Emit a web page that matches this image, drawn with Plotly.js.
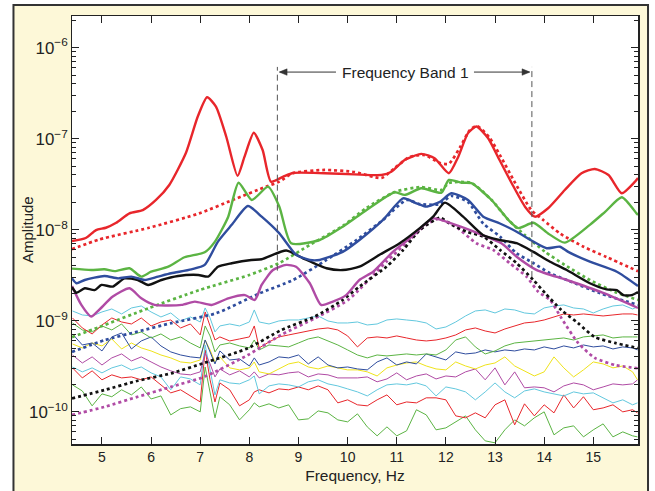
<!DOCTYPE html>
<html>
<head>
<meta charset="utf-8">
<script src="https://cdn.plot.ly/plotly-3.0.1.min.js"></script>
<style>html,body{margin:0;padding:0;background:#fff;}#chart{width:655px;height:491px;}</style>
</head>
<body>
<div id="chart"></div>
<script>
// ---- thick solid / dotted curves (frequency Hz, amplitude) ----
const redSolidF = [4.39,4.67,4.88,5.08,5.29,5.56,5.83,6.10,6.37,6.71,6.95,7.14,7.32,7.53,7.76,7.90,8.09,8.27,8.44,8.68,8.89,9.53,10.14,10.69,10.89,11.16,11.50,11.77,12.06,12.25,12.45,12.62,12.86,13.06,13.34,13.61,13.81,14.08,14.42,14.76,15.03,15.31,15.58,15.85,15.91];
const redSolidA = [7.5e-9,8.1e-9,9.9e-9,1.05e-8,1.19e-8,1.51e-8,1.64e-8,2.12e-8,3.1e-8,7.0e-8,1.75e-7,2.85e-7,2.25e-7,1.05e-7,3.9e-8,6.3e-8,1.16e-7,7.5e-8,3.37e-8,3.8e-8,4.2e-8,4.17e-8,4.05e-8,3.99e-8,4.34e-8,5.83e-8,6.8e-8,6.1e-8,4.17e-8,6.3e-8,1.15e-7,1.36e-7,1.01e-7,6.3e-8,3.24e-8,1.79e-8,1.39e-8,1.72e-8,2.73e-8,4.17e-8,4.65e-8,3.99e-8,2.51e-8,3.37e-8,3.7e-8];
const redDotF = [4.39,4.94,5.96,6.98,7.66,8.34,8.61,8.88,9.53,10.14,10.69,10.96,11.26,11.57,11.88,12.06,12.28,12.49,12.63,12.88,13.10,13.41,13.74,13.98,14.32,14.80,15.27,15.91];
const redDotA = [6.1e-9,7.8e-9,1.05e-8,1.51e-8,2.12e-8,2.97e-8,3.37e-8,4.17e-8,4.53e-8,4.3e-8,3.7e-8,4.77e-8,6.3e-8,6.6e-8,5.4e-8,5.3e-8,7.9e-8,1.25e-7,1.38e-7,1.04e-7,6.6e-8,3.26e-8,1.64e-8,1.28e-8,9.1e-9,6.5e-9,5.0e-9,3.5e-9];

const greenSolidF = [4.39,4.78,5.05,5.26,5.56,5.80,6.00,6.35,6.68,7.09,7.30,7.57,7.78,8.05,8.38,8.61,8.85,9.43,9.90,10.38,10.96,11.16,11.50,11.91,12.06,12.32,12.52,12.93,13.27,13.47,13.78,14.08,14.42,14.93,15.24,15.58,15.88,15.91];
const greenSolidA = [3.73e-9,3.6e-9,3.67e-9,3.5e-9,3.77e-9,3.05e-9,3.45e-9,3.92e-9,4.98e-9,5.65e-9,7.4e-9,1.39e-8,3.28e-8,2.12e-8,2.97e-8,1.79e-8,7.1e-9,7.7e-9,1.08e-8,1.64e-8,2.58e-8,2.41e-8,2.85e-8,2.55e-8,3.52e-8,3.28e-8,3.24e-8,2.12e-8,1.28e-8,1.04e-8,1.19e-8,9.1e-9,7.2e-9,1.13e-8,1.57e-8,2.27e-8,1.51e-8,1.45e-8];
const greenDotF = [4.39,4.94,5.96,6.98,8.00,8.61,9.23,9.90,10.38,10.96,11.50,11.91,12.06,12.52,12.93,13.27,13.61,14.02,14.42,14.93,15.44,15.91];
const greenDotA = [6.6e-10,8.5e-10,1.38e-9,2.17e-9,3.18e-9,4.3e-9,6.8e-9,1.1e-8,1.73e-8,2.6e-8,2.94e-8,2.73e-8,3.26e-8,3.26e-8,2.12e-8,1.28e-8,8.7e-9,5.7e-9,4.1e-9,2.8e-9,2.07e-9,1.69e-9];

const blueSolidF = [4.39,4.48,4.65,5.05,5.33,5.60,5.87,6.14,6.41,6.82,7.09,7.36,7.64,7.97,8.25,8.61,8.95,9.23,9.43,9.90,10.24,10.72,11.13,11.40,11.60,11.88,12.11,12.45,12.76,13.10,13.44,13.78,14.05,14.32,14.49,14.93,15.48,15.91];
const blueSolidA = [2.92e-9,2.58e-9,2.8e-9,3.1e-9,2.92e-9,3.05e-9,2.8e-9,3.05e-9,3.32e-9,3.67e-9,4.1e-9,7.4e-9,1.13e-8,1.82e-8,1.39e-8,9.1e-9,5.3e-9,4.65e-9,4.65e-9,5.7e-9,7.7e-9,1.28e-8,2.21e-8,1.95e-8,1.79e-8,2.03e-8,2.51e-8,2.12e-8,1.39e-8,1.17e-8,9.5e-9,7.4e-9,6.25e-9,6.5e-9,5.7e-9,4.45e-9,3.45e-9,2.4e-9];
const blueDotF = [4.39,5.05,5.73,6.41,7.33,8.21,8.89,9.57,10.18,10.72,11.20,11.47,11.88,12.11,12.45,12.76,13.10,13.44,13.78,14.12,14.46,15.14,15.91];
const blueDotA = [4.53e-10,6.1e-10,7.6e-10,9.4e-10,1.21e-9,2.0e-9,2.8e-9,4.65e-9,7.7e-9,1.28e-8,2.12e-8,1.91e-8,1.91e-8,2.35e-8,2.01e-8,1.17e-8,8.4e-9,5.5e-9,4.3e-9,3.32e-9,2.8e-9,2.0e-9,1.49e-9];

const blackSolidF = [4.39,4.48,4.65,4.85,4.99,5.22,5.46,5.73,5.94,6.21,6.55,6.96,7.16,7.36,7.64,8.04,8.25,8.75,9.09,9.57,9.90,10.24,10.65,11.06,11.47,11.74,11.98,12.35,12.76,13.10,13.44,13.78,14.12,14.46,14.93,15.27,15.48,15.61,15.78,15.91];
const blackSolidA = [2.33e-9,2.03e-9,2.27e-9,2.17e-9,2.47e-9,2.37e-9,2.92e-9,2.8e-9,2.47e-9,2.8e-9,3.1e-9,3.18e-9,3.05e-9,3.92e-9,4.28e-9,4.65e-9,4.73e-9,5.9e-9,4.85e-9,3.77e-9,3.6e-9,3.92e-9,5.3e-9,7.1e-9,1.04e-8,1.39e-8,1.98e-8,1.39e-8,8.7e-9,7.7e-9,7.1e-9,5.7e-9,4.45e-9,3.6e-9,2.58e-9,2.21e-9,2.17e-9,1.91e-9,1.91e-9,2.07e-9];
const blackDotF = [4.39,5.05,5.73,6.41,7.09,7.97,8.65,9.33,9.90,10.24,10.79,11.13,11.47,11.88,12.12,12.45,12.76,13.10,13.44,13.78,14.02,14.35,14.69,15.03,15.44,15.91];
const blackDotA = [1.4e-10,1.73e-10,2.19e-10,2.64e-10,3.45e-10,4.98e-10,7.9e-10,1.11e-9,1.69e-9,2.37e-9,3.92e-9,5.98e-9,9.9e-9,1.35e-8,1.13e-8,9.4e-9,8.4e-9,6.0e-9,4.28e-9,2.8e-9,2.01e-9,1.31e-9,9.4e-10,6.6e-10,5.7e-10,5.0e-10];

const magSolidF = [4.39,4.58,4.78,4.94,5.22,5.56,5.80,6.07,6.62,6.89,7.23,7.57,7.91,8.11,8.25,8.48,8.75,8.95,9.23,9.46,9.70,9.97,10.24,10.52,10.92,11.26,11.74,12.11,12.66,13.13,13.44,13.85,14.46,15.14,15.91];
const magSolidA = [2.4e-9,1.49e-9,1.11e-9,1.31e-9,1.84e-9,2.27e-9,1.76e-9,1.49e-9,1.49e-9,1.62e-9,1.49e-9,1.76e-9,1.91e-9,1.69e-9,2.47e-9,3.6e-9,4.1e-9,3.92e-9,2.58e-9,1.49e-9,1.62e-9,1.91e-9,2.8e-9,3.45e-9,5.7e-9,8.0e-9,1.33e-8,1.17e-8,9.1e-9,7.1e-9,5.05e-9,3.6e-9,2.8e-9,2.08e-9,1.38e-9];
const magDotF = [4.39,5.05,5.73,6.41,7.09,7.97,8.65,9.33,10.01,10.79,11.26,11.60,11.83,12.18,12.62,12.96,13.30,13.64,13.88,14.12,14.35,14.69,15.03,15.44,15.91];
const magDotA = [9.2e-11,1.13e-10,1.46e-10,1.88e-10,2.43e-10,4.2e-10,7.0e-10,1.06e-9,1.69e-9,4.45e-9,7.7e-9,1.13e-8,1.31e-8,1.1e-8,7.1e-9,6.0e-9,4.28e-9,3.05e-9,2.08e-9,1.69e-9,1.07e-9,5.7e-10,3.9e-10,3.26e-10,3.0e-10];

// ---- thin noise-floor records (shared frequency grid) ----
const noiseFreq = [4.4,4.6,4.8,5.0,5.2,5.4,5.6,5.8,6.0,6.2,6.4,6.6,6.8,7.0,7.1,7.2,7.3,7.4,7.6,7.8,8.0,8.1,8.2,8.4,8.6,8.8,9.0,9.2,9.4,9.6,9.8,10.0,10.2,10.4,10.6,10.8,11.0,11.2,11.4,11.6,11.8,12.0,12.2,12.4,12.6,12.8,13.0,13.2,13.4,13.6,13.8,14.0,14.2,14.4,14.6,14.8,15.0,15.2,15.4,15.6,15.8,15.9];
const cyan1 = [1.279e-9,1.156e-9,1.127e-9,1.247e-9,1.345e-9,1.186e-9,1.380e-9,1.451e-9,1.247e-9,1.099e-9,1.216e-9,0.993e-9,1.099e-9,0.968e-9,1.380e-9,1.071e-9,0.752e-9,0.875e-9,0.920e-9,0.875e-9,0.968e-9,1.312e-9,0.968e-9,0.920e-9,0.993e-9,1.018e-9,1.018e-9,1.071e-9,1.127e-9,0.993e-9,0.944e-9,0.944e-9,0.968e-9,0.897e-9,0.920e-9,1.018e-9,1.045e-9,1.018e-9,0.993e-9,0.944e-9,0.811e-9,0.853e-9,0.968e-9,1.127e-9,1.279e-9,1.312e-9,1.216e-9,1.345e-9,1.312e-9,1.216e-9,1.186e-9,1.380e-9,1.451e-9,1.489e-9,1.380e-9,1.345e-9,1.216e-9,1.345e-9,1.451e-9,1.489e-9,1.345e-9,1.415e-9];
const red1 = [1.071e-9,0.832e-9,0.715e-9,0.897e-9,1.071e-9,0.968e-9,0.920e-9,1.071e-9,0.875e-9,0.968e-9,1.018e-9,0.832e-9,0.920e-9,0.697e-9,1.247e-9,0.897e-9,0.614e-9,0.663e-9,0.599e-9,0.630e-9,0.663e-9,0.875e-9,0.502e-9,0.584e-9,0.663e-9,0.697e-9,0.733e-9,0.771e-9,0.811e-9,0.832e-9,0.791e-9,0.680e-9,0.515e-9,0.646e-9,0.663e-9,0.646e-9,0.680e-9,0.646e-9,0.614e-9,0.599e-9,0.614e-9,0.646e-9,0.697e-9,0.791e-9,0.832e-9,0.771e-9,0.733e-9,0.811e-9,0.875e-9,0.944e-9,0.968e-9,1.018e-9,1.099e-9,1.186e-9,1.156e-9,1.186e-9,1.156e-9,1.127e-9,1.156e-9,1.186e-9,1.186e-9,1.156e-9];
const green1 = [0.944e-9,0.791e-9,0.752e-9,0.875e-9,0.791e-9,0.920e-9,0.697e-9,0.752e-9,0.646e-9,0.715e-9,0.614e-9,0.663e-9,0.569e-9,0.502e-9,0.875e-9,0.680e-9,0.454e-9,0.541e-9,0.569e-9,0.528e-9,0.502e-9,0.614e-9,0.477e-9,0.541e-9,0.528e-9,0.515e-9,0.569e-9,0.630e-9,0.663e-9,0.599e-9,0.541e-9,0.477e-9,0.420e-9,0.390e-9,0.420e-9,0.410e-9,0.420e-9,0.431e-9,0.420e-9,0.431e-9,0.420e-9,0.477e-9,0.614e-9,0.663e-9,0.515e-9,0.431e-9,0.465e-9,0.528e-9,0.569e-9,0.584e-9,0.599e-9,0.614e-9,0.630e-9,0.646e-9,0.614e-9,0.663e-9,0.680e-9,0.697e-9,0.646e-9,0.663e-9,0.663e-9,0.663e-9];
const blue1 = [0.715e-9,0.541e-9,0.569e-9,0.465e-9,0.663e-9,0.733e-9,0.489e-9,0.599e-9,0.663e-9,0.528e-9,0.454e-9,0.420e-9,0.400e-9,0.390e-9,0.614e-9,0.454e-9,0.335e-9,0.465e-9,0.370e-9,0.380e-9,0.318e-9,0.390e-9,0.326e-9,0.352e-9,0.400e-9,0.390e-9,0.420e-9,0.335e-9,0.400e-9,0.326e-9,0.303e-9,0.310e-9,0.295e-9,0.288e-9,0.352e-9,0.390e-9,0.326e-9,0.352e-9,0.335e-9,0.431e-9,0.400e-9,0.370e-9,0.454e-9,0.431e-9,0.442e-9,0.477e-9,0.454e-9,0.477e-9,0.465e-9,0.489e-9,0.477e-9,0.515e-9,0.489e-9,0.528e-9,0.502e-9,0.541e-9,0.515e-9,0.528e-9,0.489e-9,0.515e-9,0.502e-9,0.477e-9];
const yellow1 = [0.555e-9,0.502e-9,0.569e-9,0.528e-9,0.630e-9,0.489e-9,0.569e-9,0.502e-9,0.465e-9,0.420e-9,0.390e-9,0.352e-9,0.343e-9,0.370e-9,0.614e-9,0.477e-9,0.352e-9,0.400e-9,0.303e-9,0.288e-9,0.303e-9,0.352e-9,0.274e-9,0.260e-9,0.295e-9,0.335e-9,0.352e-9,0.310e-9,0.295e-9,0.318e-9,0.303e-9,0.288e-9,0.288e-9,0.274e-9,0.247e-9,0.303e-9,0.326e-9,0.343e-9,0.352e-9,0.318e-9,0.295e-9,0.288e-9,0.352e-9,0.318e-9,0.295e-9,0.326e-9,0.343e-9,0.400e-9,0.318e-9,0.281e-9,0.247e-9,0.274e-9,0.400e-9,0.303e-9,0.241e-9,0.288e-9,0.352e-9,0.335e-9,0.303e-9,0.318e-9,0.274e-9,0.224e-9];
const magenta1 = [0.420e-9,0.343e-9,0.400e-9,0.326e-9,0.390e-9,0.431e-9,0.361e-9,0.400e-9,0.352e-9,0.310e-9,0.281e-9,0.260e-9,0.254e-9,0.274e-9,0.442e-9,0.335e-9,0.241e-9,0.295e-9,0.254e-9,0.281e-9,0.241e-9,0.274e-9,0.235e-9,0.260e-9,0.254e-9,0.267e-9,0.274e-9,0.241e-9,0.260e-9,0.254e-9,0.235e-9,0.235e-9,0.235e-9,0.241e-9,0.213e-9,0.229e-9,0.267e-9,0.224e-9,0.247e-9,0.260e-9,0.229e-9,0.247e-9,0.241e-9,0.274e-9,0.295e-9,0.224e-9,0.303e-9,0.197e-9,0.274e-9,0.183e-9,0.187e-9,0.183e-9,0.165e-9,0.192e-9,0.207e-9,0.197e-9,0.174e-9,0.187e-9,0.202e-9,0.197e-9,0.202e-9,0.224e-9];
const cyan2 = [0.310e-9,0.274e-9,0.303e-9,0.267e-9,0.303e-9,0.326e-9,0.288e-9,0.310e-9,0.267e-9,0.241e-9,0.174e-9,0.241e-9,0.229e-9,0.197e-9,0.541e-9,0.274e-9,0.153e-9,0.224e-9,0.207e-9,0.202e-9,0.224e-9,0.247e-9,0.157e-9,0.192e-9,0.202e-9,0.197e-9,0.187e-9,0.213e-9,0.224e-9,0.202e-9,0.192e-9,0.178e-9,0.165e-9,0.149e-9,0.174e-9,0.197e-9,0.202e-9,0.197e-9,0.207e-9,0.192e-9,0.149e-9,0.187e-9,0.178e-9,0.165e-9,0.135e-9,0.165e-9,0.207e-9,0.165e-9,0.142e-9,0.169e-9,0.178e-9,0.165e-9,0.157e-9,0.149e-9,0.165e-9,0.157e-9,0.161e-9,0.142e-9,0.125e-9,0.135e-9,0.119e-9,0.125e-9];
const red2 = [0.303e-9,0.235e-9,0.281e-9,0.224e-9,0.254e-9,0.235e-9,0.241e-9,0.224e-9,0.241e-9,0.197e-9,0.161e-9,0.174e-9,0.149e-9,0.128e-9,0.477e-9,0.224e-9,0.128e-9,0.207e-9,0.174e-9,0.116e-9,0.135e-9,0.165e-9,0.174e-9,0.161e-9,0.178e-9,0.174e-9,0.187e-9,0.174e-9,0.192e-9,0.174e-9,0.125e-9,0.135e-9,0.119e-9,0.116e-9,0.135e-9,0.153e-9,0.119e-9,0.128e-9,0.125e-9,0.142e-9,0.142e-9,0.135e-9,0.0900e-9,0.0856e-9,0.0971e-9,0.0856e-9,0.119e-9,0.135e-9,0.0717e-9,0.122e-9,0.0900e-9,0.119e-9,0.0971e-9,0.153e-9,0.110e-9,0.146e-9,0.105e-9,0.110e-9,0.119e-9,0.0996e-9,0.105e-9,0.0971e-9];
const green2 = [0.197e-9,0.169e-9,0.116e-9,0.157e-9,0.146e-9,0.174e-9,0.153e-9,0.187e-9,0.138e-9,0.149e-9,0.0923e-9,0.108e-9,0.113e-9,0.0996e-9,0.310e-9,0.165e-9,0.0856e-9,0.146e-9,0.119e-9,0.0813e-9,0.105e-9,0.125e-9,0.113e-9,0.122e-9,0.110e-9,0.119e-9,0.0813e-9,0.0834e-9,0.102e-9,0.0971e-9,0.0813e-9,0.0773e-9,0.0947e-9,0.0681e-9,0.0543e-9,0.0681e-9,0.0543e-9,0.0616e-9,0.105e-9,0.0923e-9,0.0632e-9,0.0664e-9,0.0773e-9,0.0900e-9,0.0632e-9,0.0478e-9,0.0455e-9,0.0632e-9,0.0813e-9,0.0699e-9,0.0856e-9,0.0996e-9,0.0557e-9,0.0664e-9,0.0699e-9,0.0529e-9,0.0632e-9,0.0735e-9,0.0529e-9,0.0600e-9,0.0543e-9,0.0529e-9];

// ---- colours ----
const C = {red:'#e8262b', green:'#5bb443', blue:'#2f4d9e', black:'#111111', mag:'#b04ba5', cyan:'#62c8de', yellow:'#efe31a'};

const traces = [];
function thin(y, color){ traces.push({x:noiseFreq, y:y, type:'scatter', mode:'lines', line:{color:color, width:1}, hoverinfo:'skip'}); }
function dotted(x, y, color){ traces.push({x:x, y:y, type:'scatter', mode:'lines', line:{color:color, width:2.7, dash:'3px,3px', shape:'spline', smoothing:0.6}, hoverinfo:'skip'}); }
function solid(x, y, color){ traces.push({x:x, y:y, type:'scatter', mode:'lines', line:{color:color, width:2.4, shape:'spline', smoothing:0.6}, hoverinfo:'skip'}); }

thin(green2, C.green); thin(red2, C.red); thin(cyan2, C.cyan); thin(magenta1, C.mag);
thin(yellow1, C.yellow); thin(blue1, C.blue); thin(green1, C.green); thin(red1, C.red); thin(cyan1, C.cyan);

dotted(magDotF, magDotA, C.mag); dotted(blackDotF, blackDotA, C.black);
dotted(blueDotF, blueDotA, C.blue); dotted(greenDotF, greenDotA, C.green); dotted(redDotF, redDotA, C.red);

solid(magSolidF, magSolidA, C.mag); solid(blackSolidF, blackSolidA, C.black);
solid(blueSolidF, blueSolidA, C.blue); solid(greenSolidF, greenSolidA, C.green); solid(redSolidF, redSolidA, C.red);

const FONT = 'Liberation Sans, Arial, Helvetica, sans-serif';
const bandLow = 8.57, bandHigh = 13.75;
const ay = 0.869, ah = 0.0075;

const layout = {
  width:655, height:491,
  margin:{l:72, r:17, t:16, b:47},
  paper_bgcolor:'#ffffff', plot_bgcolor:'rgba(0,0,0,0)',
  showlegend:false,
  font:{family:FONT, color:'#222', size:14},
  xaxis:{range:[4.39,15.91], tick0:5, dtick:1, ticks:'inside', ticklen:7, tickwidth:1, tickcolor:'#222',
         showline:true, linecolor:'#222', linewidth:1.5, mirror:'ticks', showgrid:false, zeroline:false,
         tickfont:{family:FONT, size:14, color:'#222'},
         title:{text:'Frequency, Hz', font:{family:FONT, size:15.5, color:'#222'}, standoff:6}},
  yaxis:{type:'log', range:[-10.355,-5.652], dtick:1, exponentformat:'power', ticks:'inside', ticklen:7, tickwidth:1, tickcolor:'#222',
         minor:{ticks:'inside', ticklen:4, dtick:'D1', tickcolor:'#222', tickwidth:1, showgrid:false},
         showline:true, linecolor:'#222', linewidth:1.5, mirror:'ticks', showgrid:false, zeroline:false,
         tickfont:{family:FONT, size:13.5, color:'#222'}},
  shapes:[
    {type:'rect', xref:'paper', yref:'paper', x0:-0.1034, x1:1.0177, y0:-0.25, y1:1.0257,
     fillcolor:'#fdf8d8', line:{color:'#333', width:2}, layer:'below'},
    {type:'rect', xref:'paper', yref:'paper', x0:0, x1:1, y0:0, y1:1,
     fillcolor:'#ffffff', line:{width:0}, layer:'below'},
    {type:'line', xref:'x', yref:'paper', x0:bandLow, x1:bandLow, y0:0.405, y1:0.881,
     line:{color:'#555', width:1, dash:'6px,4px'}},
    {type:'line', xref:'x', yref:'paper', x0:bandHigh, x1:bandHigh, y0:0.39, y1:0.881,
     line:{color:'#555', width:1, dash:'6px,4px'}},
    // arrow shafts
    {type:'line', xref:'paper', yref:'paper', x0:0.3675, x1:0.4664, y0:ay, y1:ay, line:{color:'#333', width:1}},
    {type:'line', xref:'paper', yref:'paper', x0:0.7102, x1:0.8075, y0:ay, y1:ay, line:{color:'#333', width:1}},
    // arrow heads
    {type:'path', xref:'paper', yref:'paper', path:'M 0.3660 '+ay+' L 0.3800 '+(ay+ah)+' L 0.3800 '+(ay-ah)+' Z',
     fillcolor:'#333', line:{color:'#333', width:0.5}},
    {type:'path', xref:'paper', yref:'paper', path:'M 0.8092 '+ay+' L 0.7952 '+(ay+ah)+' L 0.7952 '+(ay-ah)+' Z',
     fillcolor:'#333', line:{color:'#333', width:0.5}}
  ],
  annotations:[
    {x:0.5892, xref:'paper', y:ay, yref:'paper', text:'Frequency Band 1', showarrow:false,
     font:{family:FONT, size:15.5, color:'#222'}, xanchor:'center', yanchor:'middle'},
    {x:-0.0795, xref:'paper', y:0.5, yref:'paper', text:'Amplitude', showarrow:false, textangle:-90,
     font:{family:FONT, size:15, color:'#222'}, xanchor:'center', yanchor:'middle'}
  ]
};

Plotly.newPlot('chart', traces, layout, {displayModeBar:false, staticPlot:true});
</script>
</body>
</html>
